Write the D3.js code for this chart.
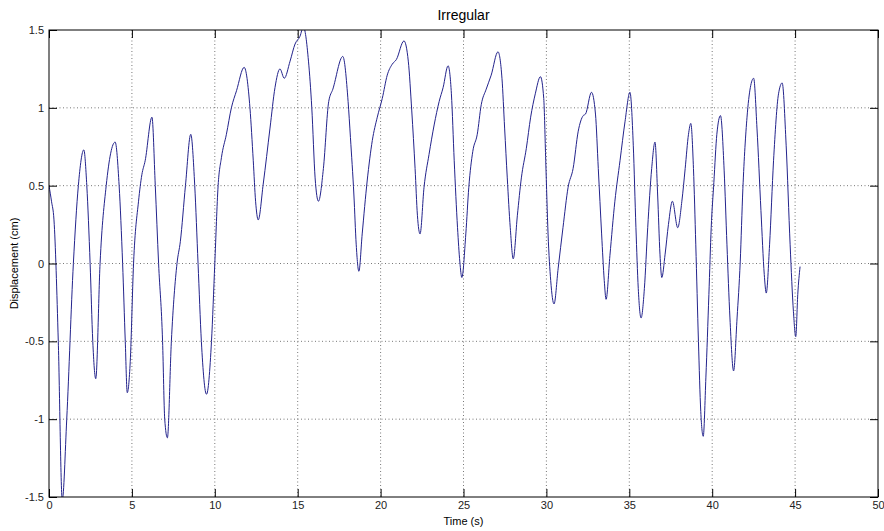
<!DOCTYPE html>
<html>
<head>
<meta charset="utf-8">
<script src="https://cdn.jsdelivr.net/npm/d3@7"></script>
<style>
  body { margin: 0; background: #fff; }
  svg { font-family: "Liberation Sans", Arial, sans-serif; }
</style>
</head>
<body>
<svg id="chart" width="884" height="531"></svg>
<script>
// time (s)
const time = [
  0, 0.15, 0.3, 0.56, 0.8, 1.07, 1.47, 1.77, 2.1, 2.28, 2.48, 2.64, 2.82, 3.08, 3.45, 3.99,
  4.23, 4.44, 4.6, 4.72, 4.9, 5.1, 5.4, 5.6, 5.8, 6.21, 6.41, 6.61, 6.85, 6.98, 7.14, 7.38,
  7.72, 7.92, 8.23, 8.55, 8.79, 8.99, 9.19, 9.5, 9.8, 10.0, 10.2, 10.4, 10.7, 11.0, 11.31, 11.77,
  12.12, 12.32, 12.46, 12.62, 12.92, 13.33, 13.63, 13.93, 14.19, 14.54, 14.84, 15.14, 15.34, 15.65,
  15.85, 16.05, 16.25, 16.55, 16.87, 17.12, 17.72, 18.04, 18.18, 18.39, 18.53, 18.69, 18.89, 19.19,
  19.5, 19.8, 20.1, 20.4, 20.7, 20.95, 21.41, 21.67, 21.88, 22.08, 22.22, 22.38, 22.62, 22.92,
  23.23, 23.53, 23.77, 24.07, 24.27, 24.44, 24.64, 24.78, 24.9, 25.14, 25.32, 25.56, 25.83, 26.07,
  26.37, 26.67, 27.08, 27.32, 27.48, 27.64, 27.82, 28.0, 28.25, 28.49, 28.79, 29.05, 29.33, 29.64,
  29.84, 29.96, 30.1, 30.26, 30.46, 30.71, 31.0, 31.31, 31.61, 31.92, 32.22, 32.36, 32.72, 32.96,
  33.13, 33.33, 33.49, 33.6, 33.83, 34.13, 34.44, 34.74, 35.04, 35.24, 35.4, 35.54, 35.71, 35.91,
  36.11, 36.35, 36.55, 36.71, 36.85, 36.96, 37.16, 37.36, 37.6, 37.92, 38.17, 38.37, 38.57, 38.71,
  38.87, 39.01, 39.17, 39.31, 39.46, 39.62, 39.8, 39.94, 40.1, 40.28, 40.5, 40.72, 40.89, 41.07,
  41.29, 41.5, 41.69, 41.85, 42.1, 42.3, 42.5, 42.7, 42.94, 43.14, 43.26, 43.46, 43.7, 44.0,
  44.22, 44.46, 44.7, 44.9, 45.04, 45.16, 45.3
];

// displacement (cm)
const displacement = [
  0.5, 0.4, 0.28, -0.5, -1.52, -1.0, 0.0, 0.5, 0.73, 0.5, 0.0, -0.5, -0.74, 0.0, 0.5, 0.78,
  0.5, 0.0, -0.5, -0.83, -0.63, 0.0, 0.4, 0.57, 0.66, 0.94, 0.5, 0.0, -0.5, -1.0, -1.12, -0.5,
  0.0, 0.14, 0.5, 0.83, 0.5, 0.0, -0.5, -0.84, -0.5, 0.0, 0.5, 0.68, 0.83, 1.0, 1.11, 1.26,
  1.0, 0.66, 0.4, 0.28, 0.51, 0.87, 1.13, 1.25, 1.19, 1.3, 1.41, 1.46, 1.52, 1.3,
  1.0, 0.55, 0.4, 0.61, 1.04, 1.12, 1.33, 1.04, 0.81, 0.44, 0.12, -0.05, 0.19, 0.53,
  0.79, 0.94, 1.06, 1.21, 1.28, 1.31, 1.43, 1.3, 0.98, 0.61, 0.31, 0.19, 0.49, 0.7,
  0.89, 1.04, 1.13, 1.27, 1.09, 0.66, 0.23, 0.01, -0.09, 0.19, 0.49, 0.72, 0.83, 1.02,
  1.12, 1.21, 1.36, 1.19, 0.87, 0.55, 0.23, 0.03, 0.31, 0.55, 0.74, 0.94, 1.09, 1.2,
  1.06, 0.66, 0.19, -0.11, -0.26, -0.03, 0.23, 0.49, 0.61, 0.85, 0.95, 0.96, 1.1, 0.96,
  0.61, 0.19, -0.11, -0.23, 0.05, 0.4, 0.66, 0.91, 1.1, 0.76, 0.23, -0.16, -0.35, -0.16,
  0.23, 0.61, 0.78, 0.44, 0.06, -0.09, 0.06, 0.25, 0.4, 0.23, 0.4, 0.61, 0.83, 0.9,
  0.61, 0.12, -0.5, -0.95, -1.11, -0.73, -0.2, 0.23, 0.52, 0.83, 0.95, 0.6, 0.12, -0.35,
  -0.69, -0.35, 0.01, 0.48, 0.94, 1.13, 1.19, 0.87, 0.34, -0.07, -0.19, 0.12, 0.66, 1.09,
  1.16, 0.76, 0.12, -0.31, -0.47, -0.2, -0.02
];

const xTicks = [0, 5, 10, 15, 20, 25, 30, 35, 40, 45, 50];
const yTicks = [-1.5, -1, -0.5, 0, 0.5, 1, 1.5];

const chartTitle = "Irregular";
const xLabel = "Time (s)";
const yLabel = "Displacement (cm)";

const margin = { top: 30, right: 6, bottom: 34, left: 49 };
const width = 884 - margin.left - margin.right;
const height = 531 - margin.top - margin.bottom;
const tickLen = 8;

const svg = d3.select("#chart");
const g = svg.append("g").attr("transform", `translate(${margin.left},${margin.top})`);

const x = d3.scaleLinear().domain([0, 50]).range([0, width]);
const y = d3.scaleLinear().domain([-1.5, 1.5]).range([height, 0]);

// dotted grid
g.append("g")
    .selectAll("line")
    .data(xTicks.slice(1, -1))
    .join("line")
    .attr("x1", d => x(d)).attr("x2", d => x(d))
    .attr("y1", 0).attr("y2", height)
    .attr("stroke", "#555")
    .attr("stroke-width", 0.8)
    .attr("stroke-dasharray", "1,2.5");

g.append("g")
    .selectAll("line")
    .data(yTicks.slice(1, -1))
    .join("line")
    .attr("x1", 0).attr("x2", width)
    .attr("y1", d => y(d)).attr("y2", d => y(d))
    .attr("stroke", "#555")
    .attr("stroke-width", 0.8)
    .attr("stroke-dasharray", "1,2.5");

// the signal
g.append("clipPath").attr("id", "clip")
    .append("rect").attr("width", width).attr("height", height);

const points = time.map((t, i) => [t, displacement[i]]);

const line = d3.line()
    .x(d => x(d[0]))
    .y(d => y(d[1]))
    .curve(d3.curveMonotoneX);

g.append("path")
    .datum(points)
    .attr("clip-path", "url(#clip)")
    .attr("fill", "none")
    .attr("stroke", "#23238c")
    .attr("stroke-width", 1)
    .attr("d", line);

// axes, ticks inside like matlab
const axisStyle = sel => {
    sel.select(".domain").remove();
    sel.selectAll(".tick line").attr("stroke", "#000");
    sel.selectAll(".tick text")
        .attr("font-size", 11)
        .attr("fill", "#222")
        .attr("font-family", "Liberation Sans, Arial, sans-serif");
};

g.append("g")
    .attr("transform", `translate(0,${height})`)
    .call(d3.axisBottom(x).tickValues(xTicks).tickSize(-tickLen).tickPadding(4).tickFormat(d => String(d)))
    .call(axisStyle);

g.append("g")
    .call(d3.axisTop(x).tickValues(xTicks).tickSize(-tickLen).tickFormat(""))
    .call(axisStyle);

g.append("g")
    .call(d3.axisLeft(y).tickValues(yTicks).tickSize(-tickLen).tickPadding(5).tickFormat(d => String(d)))
    .call(axisStyle);

g.append("g")
    .attr("transform", `translate(${width},0)`)
    .call(d3.axisRight(y).tickValues(yTicks).tickSize(-tickLen).tickFormat(""))
    .call(axisStyle);

g.append("rect")
    .attr("width", width).attr("height", height)
    .attr("fill", "none")
    .attr("stroke", "#000")
    .attr("stroke-width", 1);

// text
svg.append("text")
    .attr("x", margin.left + width / 2)
    .attr("y", 20)
    .attr("text-anchor", "middle")
    .attr("font-size", 14)
    .text(chartTitle);

svg.append("text")
    .attr("x", margin.left + width / 2)
    .attr("y", 525)
    .attr("text-anchor", "middle")
    .attr("font-size", 11)
    .text(xLabel);

svg.append("text")
    .attr("transform", `translate(18,${margin.top + height / 2}) rotate(-90)`)
    .attr("text-anchor", "middle")
    .attr("font-size", 11)
    .text(yLabel);
</script>
</body>
</html>
